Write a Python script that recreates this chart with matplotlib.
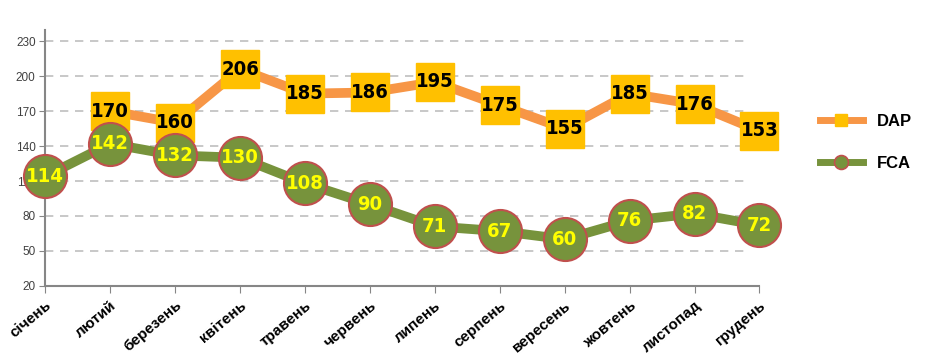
import matplotlib
matplotlib.use("Agg")
import matplotlib.pyplot as plt
import numpy as np
from matplotlib.lines import Line2D
from matplotlib import font_manager

plt.rcParams['font.family'] = ['Liberation Sans', 'DejaVu Sans']

months = ["січень", "лютий", "березень", "квітень", "травень", "червень",
          "липень", "серпень", "вересень", "жовтень", "листопад", "грудень"]
dap = [np.nan, 170, 160, 206, 185, 186, 195, 175, 155, 185, 176, 153]
fca = [114, 142, 132, 130, 108, 90, 71, 67, 60, 76, 82, 72]
yticks = [20, 50, 80, 110, 140, 170, 200, 230]

fp = font_manager.FontProperties(family='DejaVu Sans', weight='bold', stretch='condensed', size=14.5)

fig = plt.figure(figsize=(9.25, 3.56), dpi=100)
ax = fig.add_axes([0.049, 0.197, 0.772, 0.72])

x = np.arange(len(months))
ax.plot(x, dap, color="#F79646", lw=7, solid_capstyle='round', zorder=2)
ax.plot(x, dap, ls='none', marker='s', ms=27, mfc="#FFC000", mec="#FFC000", zorder=3)
ax.plot(x, fca, color="#77933C", lw=7, solid_capstyle='round', zorder=2)
ax.plot(x, fca, ls='none', marker='o', ms=31, mfc="#77933C", mec="#C0504D", mew=1.5, zorder=3)

for xi, v in zip(x, dap):
    if not np.isnan(v):
        ax.text(xi, v, f"{int(v)}", ha='center', va='center', fontproperties=fp,
                color='black', zorder=4)
for xi, v in zip(x, fca):
    ax.text(xi, v, f"{int(v)}", ha='center', va='center', fontproperties=fp,
            color='#FFFF00', zorder=4)

ax.set_xlim(0, 11)
ax.set_ylim(20, 240)
ax.set_yticks(yticks)
ax.set_yticklabels([str(t) for t in yticks], fontsize=8.5, color='#404040')
ax.set_xticks(x)
ax.set_xticklabels(months, rotation=40, ha='right', rotation_mode='anchor',
                   fontsize=11, fontweight='bold')
ax.tick_params(axis='x', length=5, color='#868686', pad=4)
ax.tick_params(axis='y', length=4, color='#868686', pad=3)
for t in yticks[1:]:
    ax.axhline(t, color='#BFBFBF', lw=1.2, ls=(0, (5, 4)), zorder=1, xmax=0.985)
for s in ['top', 'right']:
    ax.spines[s].set_visible(False)
for s in ['left', 'bottom']:
    ax.spines[s].set_color('#868686')
    ax.spines[s].set_linewidth(1.5)
for art in ax.lines + ax.texts:
    art.set_clip_on(False)

handles = [
    Line2D([0], [0], color="#F79646", lw=5, marker='s', ms=9, mfc="#FFC000", mec="#FFC000"),
    Line2D([0], [0], color="#77933C", lw=5, marker='o', ms=10, mfc="#77933C", mec="#C0504D", mew=1.2),
]
fig.legend(handles, ["DAP", "FCA"], loc='center left', bbox_to_anchor=(0.87, 0.6),
           frameon=False, labelspacing=1.6, handlelength=2.6,
           prop={'weight': 'bold', 'size': 12})

fig.savefig("out.png", dpi=100)
